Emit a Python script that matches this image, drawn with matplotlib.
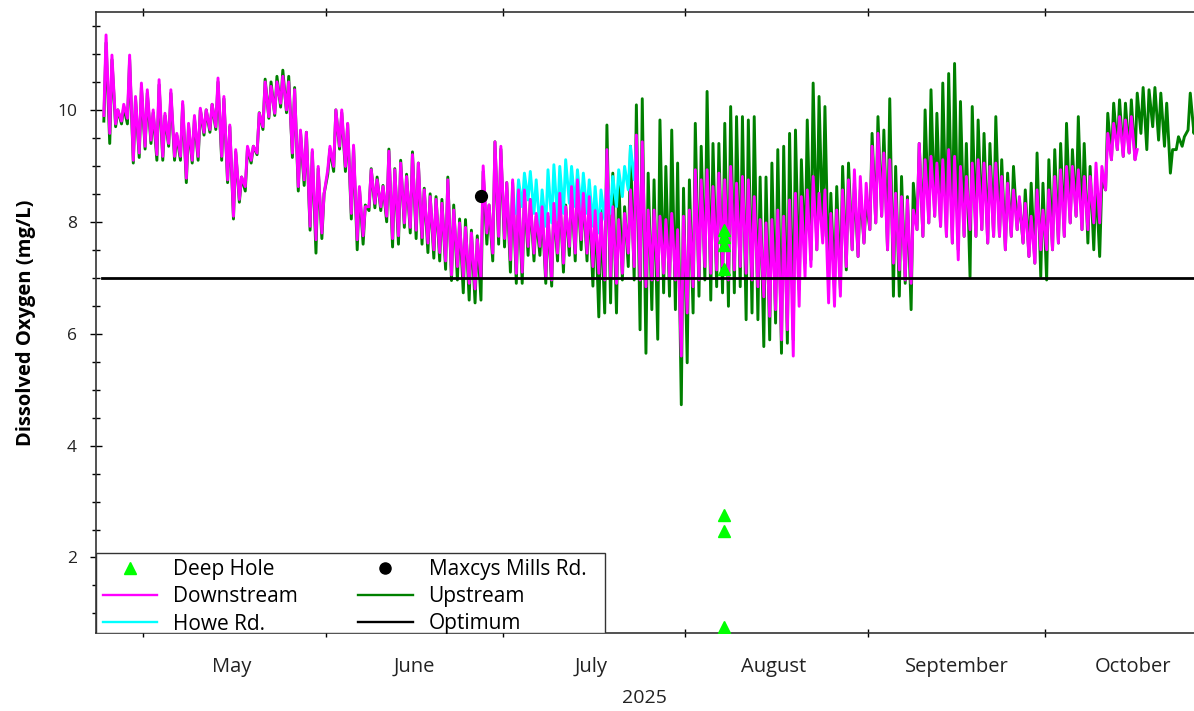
import numpy as np
import matplotlib
matplotlib.use("Agg")
import matplotlib.pyplot as plt
import matplotlib.dates as mdates
from matplotlib.lines import Line2D
from matplotlib.patches import Rectangle
from matplotlib.ticker import MultipleLocator, NullFormatter

plt.rcParams['font.family'] = ['Open Sans', 'DejaVu Sans']

# ---------------- data (daily max / min) ----------------
START = "2025-04-24"          # first day of Downstream / Upstream records
HOWE_START = "2025-07-03"     # first day of Howe Rd. record

DN_MAX = [11.34, 10.98, 10.0, 10.1, 10.98, 10.24, 10.48, 10.36, 10.0, 10.54,
          9.94, 10.36, 9.58, 10.15, 9.76, 9.9, 10.03, 10.0, 10.1, 10.57,
          10.24, 9.73, 9.29, 8.8, 9.35, 9.35, 9.94, 10.5, 10.42, 10.5,
          10.6, 10.5, 10.36, 9.64, 9.6, 9.29, 8.99, 8.5, 9.35, 10.0,
          10.0, 9.76, 9.37, 8.63, 8.27, 8.93, 8.75, 8.63, 9.26, 8.93,
          9.05, 8.81, 9.2, 9.05, 8.57, 8.45, 8.4, 8.33, 8.75, 8.21,
          7.98, 7.9, 7.8, 7.68, 9.0, 8.3, 9.43, 9.35, 8.7, 8.75,
          8.57, 8.57, 8.4, 8.15, 8.27, 8.15, 8.33, 8.51, 8.27, 8.63,
          8.75, 8.51, 8.45, 8.2, 8.15, 9.29, 8.27, 8.04, 8.15, 8.57,
          9.55, 9.43, 8.21, 8.21, 8.1, 8.04, 8.15, 7.86, 8.1, 8.21,
          8.93, 8.75, 8.93, 8.63, 8.87, 8.75, 8.99, 8.69, 8.81, 8.75,
          8.45, 8.04, 7.98, 8.04, 8.21, 8.1, 8.39, 8.51, 8.45, 8.57,
          8.81, 8.51, 8.57, 8.15, 8.21, 8.57, 8.75, 8.93, 8.81, 8.69,
          9.35, 9.58, 9.23, 9.11, 8.51, 8.45, 8.39, 8.21, 9.4, 9.11,
          9.17, 9.05, 9.11, 9.29, 9.17, 8.99, 8.81, 9.05, 9.11, 9.05,
          8.99, 9.05, 8.81, 8.69, 8.57, 8.45, 8.33, 8.1, 8.57, 8.21,
          8.57, 8.81, 8.93, 8.99, 8.99, 8.93, 8.81, 8.81, 9.05, 8.99,
          9.58, 9.76, 9.88, 9.82, 9.88, 9.29]
DN_MIN = [9.9, 9.58, 9.75, 9.8, 9.85, 9.1, 9.23, 9.35, 9.46, 9.2,
          9.17, 9.4, 9.17, 9.17, 8.78, 9.1, 9.17, 9.6, 9.65, 9.7,
          9.17, 8.75, 8.1, 8.4, 8.63, 9.1, 9.23, 9.7, 9.88, 9.94,
          10.12, 10.0, 9.23, 8.63, 8.75, 7.92, 7.68, 7.8, 8.93, 8.99,
          9.35, 8.99, 8.15, 7.68, 7.75, 8.27, 8.33, 8.27, 8.1, 7.7,
          7.75, 7.98, 7.9, 7.85, 7.72, 7.62, 7.5, 7.45, 7.3, 7.05,
          7.2, 7.02, 6.9, 6.8, 7.0, 7.8, 7.44, 7.74, 7.7, 7.32,
          7.08, 7.1, 7.56, 7.44, 7.56, 7.02, 6.96, 7.44, 7.26, 7.56,
          7.44, 7.68, 7.44, 7.2, 7.08, 6.96, 7.02, 6.9, 7.08, 7.44,
          7.2, 6.96, 6.84, 6.96, 6.96, 7.08, 7.02, 6.96, 5.6, 6.37,
          6.84, 6.96, 7.2, 7.08, 7.14, 7.2, 6.96, 7.14, 7.2, 7.08,
          6.96, 6.84, 6.66, 6.31, 6.43, 5.89, 6.07, 5.6, 6.49, 7.02,
          7.2, 7.5, 7.62, 6.55, 6.49, 6.67, 7.2, 7.5, 7.38, 7.62,
          7.86, 7.98, 8.1, 7.5, 7.26, 7.14, 6.96, 6.9, 7.86, 7.74,
          7.98, 8.1, 7.92, 7.74, 7.62, 7.32, 7.74, 7.86, 7.74, 7.86,
          7.62, 7.74, 7.74, 7.5, 7.74, 7.86, 7.62, 7.38, 7.26, 7.5,
          7.5, 7.5, 7.62, 7.74, 7.98, 8.1, 7.86, 7.86, 7.98, 7.98,
          8.57, 9.11, 9.29, 9.17, 9.23, 9.11]

UP_MAX = [11.2, 10.9, 10.0, 10.05, 10.9, 10.2, 10.4, 10.3, 9.95, 10.45,
          9.9, 10.3, 9.55, 10.1, 9.7, 9.85, 10.0, 10.0, 10.1, 10.5,
          10.2, 9.7, 9.25, 8.8, 9.3, 9.35, 9.95, 10.55, 10.5, 10.6,
          10.71, 10.6, 10.4, 9.6, 9.6, 9.25, 8.95, 8.5, 9.3, 10.0,
          9.95, 9.75, 9.35, 8.6, 8.3, 8.95, 8.8, 8.65, 9.3, 8.95,
          9.1, 8.85, 9.25, 9.05, 8.6, 8.5, 8.45, 8.4, 8.8, 8.3,
          8.05, 8.04, 7.85, 7.75, 8.9, 8.3, 9.43, 9.3, 8.7, 8.7,
          8.55, 8.5, 8.4, 8.1, 8.2, 8.1, 8.3, 8.5, 8.3, 8.6,
          8.7, 8.5, 8.4, 8.3, 8.2, 9.73, 8.87, 8.81, 8.27, 9.35,
          10.09, 10.2, 8.87, 8.75, 9.82, 8.99, 9.64, 9.05, 8.6, 8.75,
          9.76, 9.35, 10.33, 9.4, 9.4, 9.76, 10.06, 9.88, 9.88, 9.82,
          9.88, 8.8, 8.8, 9.05, 9.29, 9.35, 9.58, 9.64, 9.11, 9.82,
          10.48, 10.24, 10.06, 8.51, 8.63, 8.99, 9.05, 8.69, 8.57, 8.39,
          9.58, 9.88, 9.64, 10.2, 8.99, 8.81, 8.45, 8.69, 9.4, 10.0,
          10.36, 9.94, 10.48, 10.65, 10.83, 10.15, 9.4, 10.06, 9.82, 9.58,
          9.4, 9.88, 9.11, 8.87, 8.99, 8.39, 8.57, 8.69, 9.23, 8.69,
          9.11, 9.29, 9.4, 9.76, 9.29, 9.88, 9.4, 8.99, 8.75, 8.75,
          9.94, 10.12, 10.18, 10.12, 10.18, 10.3, 10.4, 10.36, 10.4, 10.3,
          10.12, 9.29, 9.52, 9.52, 10.3, 9.94]
UP_MIN = [9.8, 9.4, 9.7, 9.75, 9.75, 9.05, 9.15, 9.3, 9.4, 9.1,
          9.1, 9.35, 9.1, 9.1, 8.7, 9.05, 9.1, 9.55, 9.6, 9.65,
          9.1, 8.7, 8.05, 8.35, 8.55, 9.05, 9.2, 9.65, 9.85, 9.9,
          10.05, 9.95, 9.15, 8.55, 8.65, 7.85, 7.44, 7.7, 8.85, 8.9,
          9.3, 8.9, 8.05, 7.5, 7.6, 8.2, 8.25, 8.2, 8.0, 7.55,
          7.6, 7.9, 7.8, 7.7, 7.6, 7.45, 7.35, 7.3, 7.15, 6.95,
          6.96, 6.73, 6.6, 6.55, 6.6, 7.6, 7.3, 7.6, 7.55, 7.1,
          6.9, 6.9, 7.4, 7.3, 7.4, 6.9, 6.85, 7.3, 7.1, 7.4,
          7.3, 7.5, 7.3, 6.85, 6.3, 6.37, 6.55, 6.37, 6.96, 7.2,
          6.96, 6.07, 5.65, 6.43, 5.9, 6.73, 6.67, 6.43, 4.73, 5.48,
          6.37, 6.67, 6.96, 6.6, 6.84, 6.73, 6.49, 6.73, 6.84, 6.25,
          6.37, 6.25, 5.77, 5.89, 6.19, 5.65, 5.83, 5.89, 6.79, 7.26,
          7.32, 7.5, 7.74, 6.96, 6.79, 6.79, 7.14, 7.5, 7.38, 7.62,
          7.86, 7.98, 8.1, 7.5, 6.67, 6.67, 6.9, 6.43, 7.86, 7.74,
          7.98, 8.1, 7.92, 7.74, 7.62, 7.5, 7.74, 7.02, 7.74, 7.86,
          7.62, 7.74, 7.74, 7.5, 7.74, 7.86, 7.62, 7.38, 7.26, 7.02,
          6.96, 7.5, 7.62, 7.74, 7.98, 8.1, 7.86, 7.62, 7.5, 7.38,
          8.57, 9.11, 9.29, 9.17, 9.23, 9.11, 9.58, 9.29, 9.7, 9.46,
          9.35, 8.87, 9.29, 9.35, 9.64, 9.58]

HOWE_MAX = [8.75, 8.87, 8.9, 8.75, 8.57, 8.93, 9.02, 8.99, 9.11, 8.99,
            8.93, 8.87, 8.75, 8.63, 8.57, 8.75, 8.81, 8.93, 8.99, 9.35, 9.38]
HOWE_MIN = [8.15, 8.27, 8.39, 8.15, 7.86, 7.92, 7.98, 8.04, 8.15, 8.33,
            8.27, 8.21, 8.15, 7.92, 7.8, 8.04, 8.15, 8.27, 8.45, 8.57, 8.75]

DEEP_DATE = "2025-08-07"
DEEP_VALUES = [7.85, 7.72, 7.58, 7.15, 2.76, 2.48, 0.76]
MAXCYS_DATE = "2025-06-27"
MAXCYS_VALUES = [8.46]
OPTIMUM = 7.0
OPT_RANGE = ["2025-04-24", "2025-10-28"]


def diurnal(start, mx, mn):
    """Two readings per day: morning low then afternoon high."""
    base = np.datetime64(start, 'm')
    t, v = [], []
    for i, (hi, lo) in enumerate(zip(mx, mn)):
        day = base + np.timedelta64(i * 1440, 'm')
        t += [day + np.timedelta64(7 * 60, 'm'), day + np.timedelta64(16 * 60, 'm')]
        v += [lo, hi]
    return np.array(t), np.array(v)


W, H = 1194, 711
AX_L, AX_R, AX_T, AX_B = 95.7, 1194, 12, 633
fig = plt.figure(figsize=(W / 100, H / 100), dpi=100)
ax = fig.add_axes([AX_L / W, 1 - AX_B / H, (AX_R - AX_L) / W, (AX_B - AX_T) / H])

tu, vu = diurnal(START, UP_MAX, UP_MIN)
td, vd = diurnal(START, DN_MAX, DN_MIN)
th, vh = diurnal(HOWE_START, HOWE_MAX, HOWE_MIN)

LW = 2.1
ax.plot(tu, vu, color='#008000', lw=LW, zorder=2)
ax.plot(th, vh, color='#00FFFF', lw=LW, zorder=3)
ax.plot(td, vd, color='#FF00FF', lw=LW, zorder=4)
ax.plot(np.array(OPT_RANGE, dtype='datetime64[m]'), [OPTIMUM, OPTIMUM],
        color='black', lw=2, zorder=5)
ax.plot(np.array([DEEP_DATE] * len(DEEP_VALUES), dtype='datetime64[m]') + np.timedelta64(12 * 60, 'm'),
        DEEP_VALUES, linestyle='none', marker='^', color='#00FF00', ms=8, zorder=6)
ax.plot(np.array([MAXCYS_DATE] * len(MAXCYS_VALUES), dtype='datetime64[m]') + np.timedelta64(8 * 60, 'm'),
        MAXCYS_VALUES, linestyle='none', marker='o', color='black', ms=8.5, zorder=6)

start = np.datetime64(START, 'm')
ax.set_xlim(start - np.timedelta64(int(1.09 * 1440), 'm'),
            start + np.timedelta64(int(185.3 * 1440), 'm'))
ax.set_ylim(0.65, 11.75)

# x ticks: month boundaries as ticks, month names centred mid-month
ax.xaxis.set_major_locator(mdates.MonthLocator())
ax.xaxis.set_major_formatter(NullFormatter())
ax.xaxis.set_minor_locator(mdates.MonthLocator(bymonthday=16))
ax.xaxis.set_minor_formatter(mdates.DateFormatter('%B'))
ax.tick_params(axis='x', which='major', direction='inout', length=6, width=1,
               top=True, bottom=True)
ax.tick_params(axis='x', which='minor', length=0, pad=17, labelsize=14.5, labelcolor='#222222')

ax.yaxis.set_major_locator(MultipleLocator(2))
ax.yaxis.set_minor_locator(MultipleLocator(0.5))
ax.tick_params(axis='y', which='major', direction='inout', length=9, width=1,
               labelsize=12.5, labelcolor='#222222', pad=9)
ax.tick_params(axis='y', which='minor', direction='inout', length=6, width=1)

for s in ['left', 'top', 'bottom']:
    ax.spines[s].set_color('#333333')
    ax.spines[s].set_linewidth(1.2)
ax.spines['right'].set_visible(False)

ax.set_ylabel('Dissolved Oxygen (mg/L)', fontsize=14.5, fontweight='bold', labelpad=15)
ax.set_xlabel('2025', fontsize=14, color='#222222', labelpad=9)

# legend box (frame drawn separately so its size matches the original)
axw, axh = AX_R - AX_L, AX_B - AX_T
ax.add_patch(Rectangle((0, 0), (605 - AX_L) / axw, (AX_B - 553) / axh, transform=ax.transAxes,
                       facecolor='white', edgecolor='#333333', lw=1.0, zorder=9))

handles = [
    Line2D([], [], linestyle='none', marker='^', color='#00FF00', ms=8),
    Line2D([], [], color='#FF00FF', lw=1.7),
    Line2D([], [], color='#00FFFF', lw=1.7),
    Line2D([], [], linestyle='none', marker='o', color='black', ms=8),
    Line2D([], [], color='#008000', lw=1.7),
    Line2D([], [], color='black', lw=1.7),
]
labels = ['Deep Hole', 'Downstream', 'Howe Rd.', 'Maxcys Mills Rd.', 'Upstream', 'Optimum']
leg = ax.legend(handles, labels, loc='lower left',
                bbox_to_anchor=((103 - AX_L) / axw, -1.5 / axh), borderaxespad=0,
                ncol=2, frameon=False, fontsize=15,
                handlelength=2.6, handletextpad=0.77, columnspacing=2.9, labelspacing=0.3,
                borderpad=0.0, numpoints=1)
leg.set_zorder(10)

fig.savefig('out.png', dpi=100)
